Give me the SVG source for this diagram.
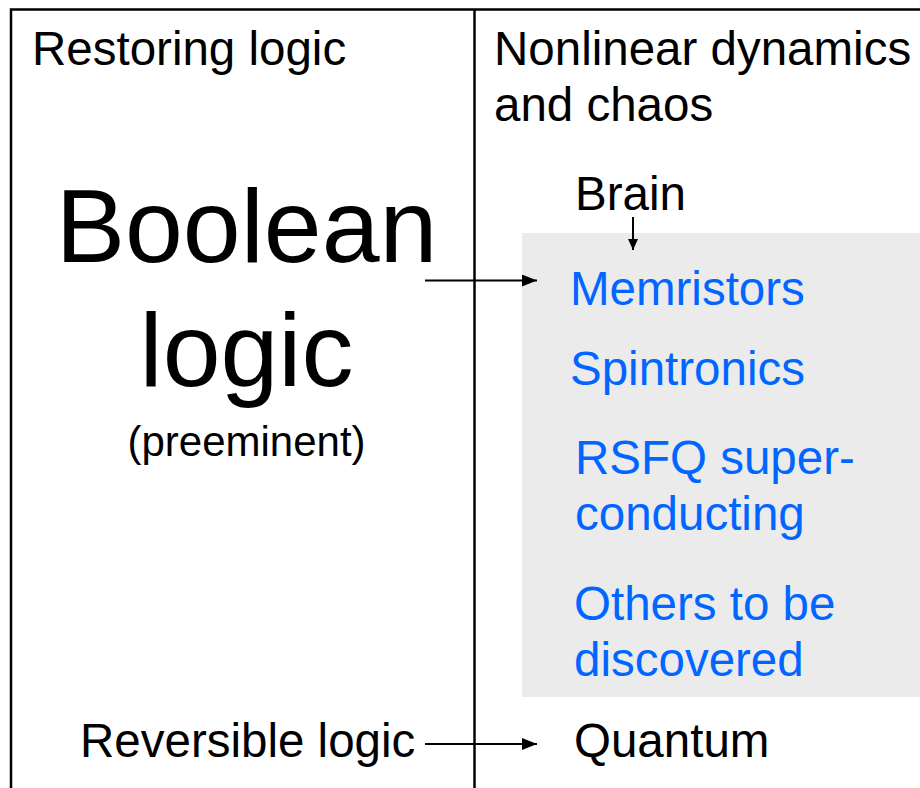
<svg xmlns="http://www.w3.org/2000/svg" width="920" height="788" viewBox="0 0 920 788">
<style>
text{font-family:"Liberation Sans",Arial,sans-serif;fill:#000}
.t{font-size:47.5px}
.b{font-size:47.5px;fill:#0066FF}
.frame{stroke:#000;stroke-width:2.5;fill:none}
.conn{stroke:#000;stroke-width:2;fill:none}
</style>
<defs>
<marker id="ah" markerUnits="userSpaceOnUse" markerWidth="16" markerHeight="12" refX="15" refY="6" orient="auto">
<path d="M0,0 L15,6 L0,12 Z" fill="#000"/>
</marker>
<marker id="ahs" markerUnits="userSpaceOnUse" markerWidth="12" markerHeight="10" refX="11" refY="5" orient="auto">
<path d="M0,0 L11,5 L0,10 Z" fill="#000"/>
</marker>
</defs>
<rect id="gray-panel" x="522" y="233" width="398" height="464" fill="#EBEBEB"/>
<g id="frame">
<path class="frame" d="M11,788 V9.5 H920"/>
<path class="frame" d="M474.5,9.5 V788"/>
</g>
<g id="restoring"><text class="t" x="32" y="65">Restoring logic</text></g>
<g id="nonlinear"><text class="t" x="494" y="65">Nonlinear dynamics</text><text class="t" x="494" y="121">and chaos</text></g>
<g id="boolean">
<text x="246.5" y="262" text-anchor="middle" style="font-size:104px">Boolean</text>
<text x="246.5" y="386" text-anchor="middle" style="font-size:104px">logic</text>
<text x="246.5" y="456" text-anchor="middle" style="font-size:42px">(preeminent)</text>
</g>
<g id="brain"><text class="t" x="575" y="210">Brain</text></g>
<g id="memristors"><text class="b" x="570" y="305">Memristors</text></g>
<g id="spintronics"><text class="b" x="570" y="385">Spintronics</text></g>
<g id="rsfq"><text class="b" x="575" y="474">RSFQ super-</text><text class="b" x="575" y="530">conducting</text></g>
<g id="others"><text class="b" x="574" y="620">Others to be</text><text class="b" x="574" y="676">discovered</text></g>
<g id="reversible"><text class="t" x="80" y="757">Reversible logic</text></g>
<g id="quantum"><text class="t" x="574" y="757">Quantum</text></g>
<g id="connectors">
<path class="conn" d="M425,280.5 H537" marker-end="url(#ah)"/>
<path class="conn" d="M425,744 H537" marker-end="url(#ah)"/>
<path class="conn" d="M633,217 V250" marker-end="url(#ahs)"/>
</g>
</svg>
